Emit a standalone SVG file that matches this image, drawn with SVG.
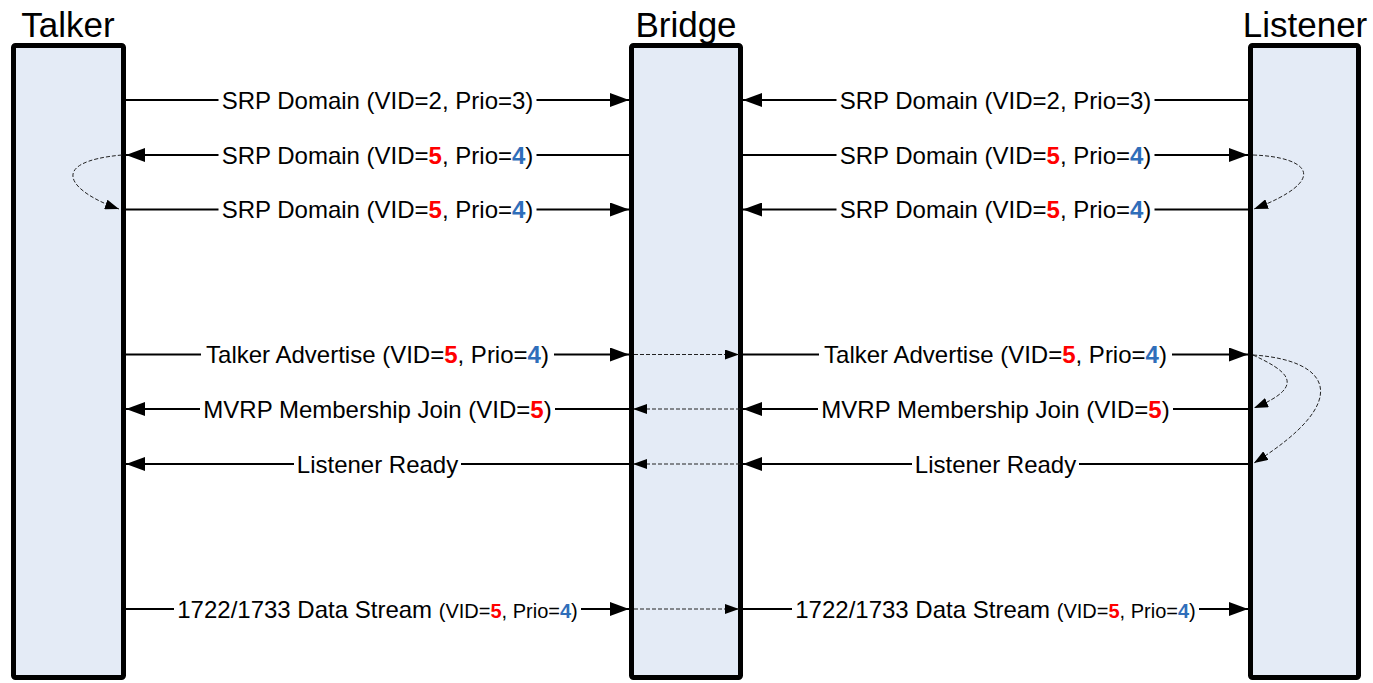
<svg xmlns="http://www.w3.org/2000/svg" width="1373" height="683" viewBox="0 0 1373 683">
<style>
.box{fill:#E4EBF6;stroke:#000;stroke-width:5}
.title{font-family:"Liberation Sans",Arial,sans-serif;font-size:35px;fill:#000;text-anchor:middle}
.lbl{font-family:"Liberation Sans",Arial,sans-serif;font-size:24px;fill:#000;text-anchor:middle}
.sm{font-size:20px}
.r{fill:#FF0000;font-weight:bold}
.b{fill:#2F6EBA;font-weight:bold}
.ln{stroke:#000;stroke-width:2;fill:none}
.arr{marker-end:url(#ah)}
.dash{stroke:#222;stroke-width:1;stroke-dasharray:4 2;fill:none;marker-end:url(#dh)}
</style>
<defs>
<marker id="ah" markerUnits="userSpaceOnUse" markerWidth="20" markerHeight="14" refX="19" refY="7" orient="auto"><path d="M0,0 L19,7 L0,14 Z" fill="#000"/></marker>
<marker id="dh" markerUnits="userSpaceOnUse" markerWidth="14" markerHeight="10" refX="14" refY="5" orient="auto"><path d="M0,0 L14,5 L0,10 Z" fill="#000"/></marker>
</defs>
<g id="talker"><rect class="box" x="13.5" y="45.5" width="110" height="632" rx="2"/><text class="title" x="68" y="37">Talker</text></g>
<g id="bridge"><rect class="box" x="631.5" y="45.5" width="109" height="632" rx="2"/><text class="title" x="686" y="37">Bridge</text></g>
<g id="listener"><rect class="box" x="1250.5" y="45.5" width="108" height="632" rx="2"/><text class="title" x="1305" y="37">Listener</text></g>
<g id="connectors">
<!-- row 1 -->
<line class="ln" x1="126" y1="100" x2="218.5" y2="100"/><line class="ln arr" x1="536.5" y1="100" x2="629" y2="100"/>
<text class="lbl" x="377.5" y="108.5">SRP Domain (VID=2, Prio=3)</text>
<line class="ln" x1="1248" y1="100" x2="1154.5" y2="100"/><line class="ln arr" x1="836.5" y1="100" x2="743" y2="100"/>
<text class="lbl" x="995.5" y="108.5">SRP Domain (VID=2, Prio=3)</text>
<!-- row 2 -->
<line class="ln" x1="629" y1="155" x2="536.5" y2="155"/><line class="ln arr" x1="218.5" y1="155" x2="126" y2="155"/>
<text class="lbl" x="377.5" y="163.5">SRP Domain (VID=<tspan class="r">5</tspan>, Prio=<tspan class="b">4</tspan>)</text>
<line class="ln" x1="743" y1="155" x2="836.5" y2="155"/><line class="ln arr" x1="1154.5" y1="155" x2="1248" y2="155"/>
<text class="lbl" x="995.5" y="163.5">SRP Domain (VID=<tspan class="r">5</tspan>, Prio=<tspan class="b">4</tspan>)</text>
<!-- row 3 -->
<line class="ln" x1="126" y1="209.5" x2="218.5" y2="209.5"/><line class="ln arr" x1="536.5" y1="209.5" x2="629" y2="209.5"/>
<text class="lbl" x="377.5" y="218">SRP Domain (VID=<tspan class="r">5</tspan>, Prio=<tspan class="b">4</tspan>)</text>
<line class="ln" x1="1248" y1="209.5" x2="1154.5" y2="209.5"/><line class="ln arr" x1="836.5" y1="209.5" x2="743" y2="209.5"/>
<text class="lbl" x="995.5" y="218">SRP Domain (VID=<tspan class="r">5</tspan>, Prio=<tspan class="b">4</tspan>)</text>
<!-- row 4 -->
<line class="ln" x1="126" y1="354.5" x2="201" y2="354.5"/><line class="ln arr" x1="554" y1="354.5" x2="629" y2="354.5"/>
<text class="lbl" x="377.5" y="363">Talker Advertise (VID=<tspan class="r">5</tspan>, Prio=<tspan class="b">4</tspan>)</text>
<line class="dash" x1="634" y1="354.5" x2="739" y2="354.5"/>
<line class="ln" x1="743" y1="354.5" x2="819" y2="354.5"/><line class="ln arr" x1="1172" y1="354.5" x2="1248" y2="354.5"/>
<text class="lbl" x="995.5" y="363">Talker Advertise (VID=<tspan class="r">5</tspan>, Prio=<tspan class="b">4</tspan>)</text>
<!-- row 5 -->
<line class="ln" x1="629" y1="409" x2="555" y2="409"/><line class="ln arr" x1="200" y1="409" x2="126" y2="409"/>
<text class="lbl" x="377.5" y="417.5">MVRP Membership Join (VID=<tspan class="r">5</tspan>)</text>
<line class="dash" x1="740" y1="409" x2="633" y2="409"/>
<line class="ln" x1="1248" y1="409" x2="1173" y2="409"/><line class="ln arr" x1="818" y1="409" x2="743" y2="409"/>
<text class="lbl" x="995.5" y="417.5">MVRP Membership Join (VID=<tspan class="r">5</tspan>)</text>
<!-- row 6 -->
<line class="ln" x1="629" y1="464" x2="461" y2="464"/><line class="ln arr" x1="294" y1="464" x2="126" y2="464"/>
<text class="lbl" x="377.5" y="472.5">Listener Ready</text>
<line class="dash" x1="740" y1="464" x2="633" y2="464"/>
<line class="ln" x1="1248" y1="464" x2="1079" y2="464"/><line class="ln arr" x1="912" y1="464" x2="743" y2="464"/>
<text class="lbl" x="995.5" y="472.5">Listener Ready</text>
<!-- row 7 -->
<line class="ln" x1="126" y1="609" x2="174" y2="609"/><line class="ln arr" x1="581" y1="609" x2="629" y2="609"/>
<text class="lbl" x="377.5" y="617.5">1722/1733 Data Stream <tspan class="sm">(VID=<tspan class="r">5</tspan>, Prio=<tspan class="b">4</tspan>)</tspan></text>
<line class="dash" x1="634" y1="609" x2="739" y2="609"/>
<line class="ln" x1="743" y1="609" x2="792" y2="609"/><line class="ln arr" x1="1199" y1="609" x2="1248" y2="609"/>
<text class="lbl" x="995.5" y="617.5">1722/1733 Data Stream <tspan class="sm">(VID=<tspan class="r">5</tspan>, Prio=<tspan class="b">4</tspan>)</tspan></text>
<!-- loops -->
<path class="dash" d="M122,155 C45,162 70,192 119,209"/>
<path class="dash" d="M1253,155 C1310,157 1330,180 1254,209"/>
<path class="dash" d="M1253,355 C1285,370 1310,385 1254,408"/>
<path class="dash" d="M1253,355 C1330,360 1355,400 1254,463"/>
</g>
</svg>
